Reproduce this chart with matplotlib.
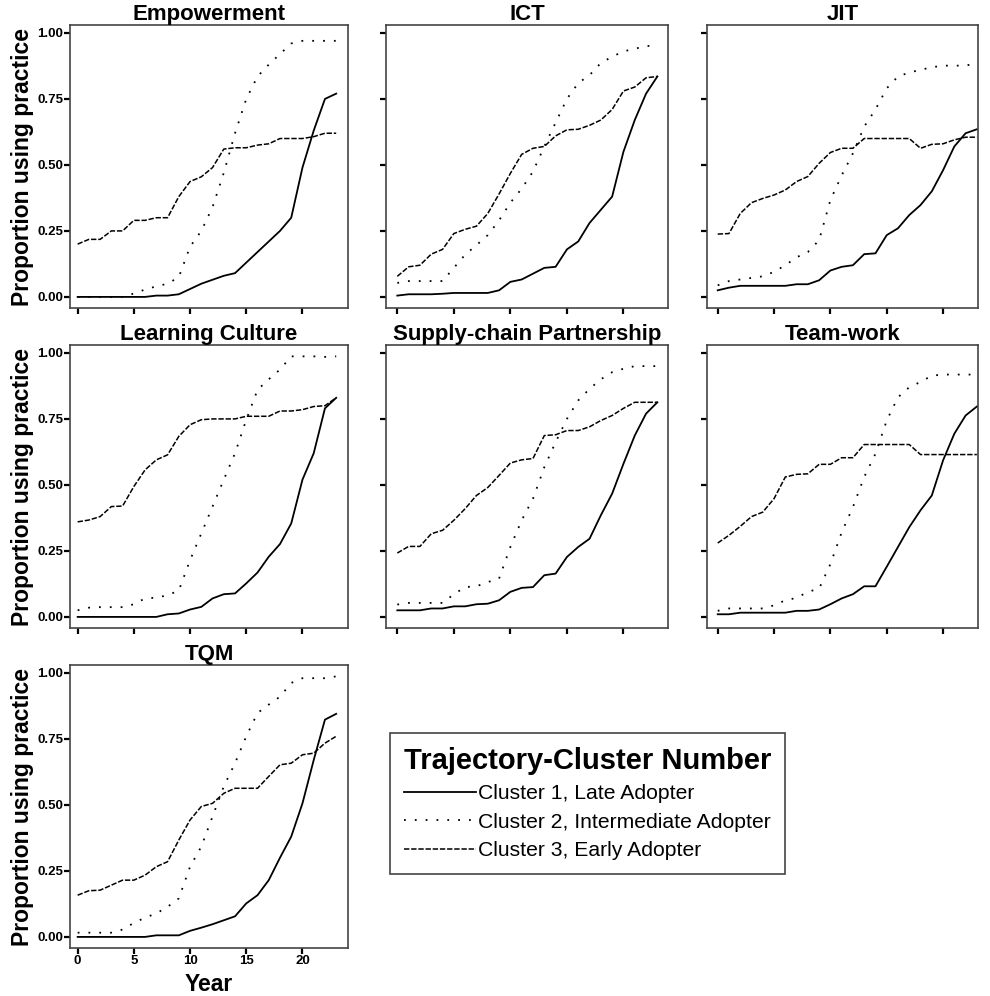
import numpy as np
import matplotlib
matplotlib.use('Agg')
from matplotlib import pyplot as plt
from matplotlib.lines import Line2D

plt.rcParams['font.family'] = ['Liberation Sans', 'DejaVu Sans']

# Years since first adoption
years = np.arange(24)

panels = ['Empowerment', 'ICT', 'JIT', 'Learning Culture',
          'Supply-chain Partnership', 'Team-work', 'TQM']

# Cluster 1 - Late adopter
late = {
    'Empowerment': [0, 0, 0, 0, 0, 0, 0, 0.005, 0.005, 0.01, 0.03, 0.05, 0.065, 0.08, 0.09, 0.13,
                    0.17, 0.21, 0.25, 0.30, 0.49, 0.63, 0.75, 0.77],
    'ICT': [0.005, 0.01, 0.01, 0.01, 0.012, 0.015, 0.015, 0.015, 0.015, 0.025, 0.057, 0.066, 0.088,
            0.11, 0.114, 0.18, 0.21, 0.28, 0.33, 0.38, 0.55, 0.67, 0.77, 0.835],
    'JIT': [0.025, 0.035, 0.042, 0.042, 0.042, 0.042, 0.042, 0.048, 0.048, 0.063, 0.10, 0.114, 0.12,
            0.162, 0.165, 0.234, 0.26, 0.31, 0.348, 0.40, 0.48, 0.57, 0.62, 0.635],
    'Learning Culture': [0, 0, 0, 0, 0, 0, 0, 0, 0.01, 0.013, 0.028, 0.038, 0.07, 0.086, 0.089,
                         0.127, 0.168, 0.228, 0.276, 0.354, 0.52, 0.62, 0.79, 0.83],
    'Supply-chain Partnership': [0.025, 0.025, 0.025, 0.032, 0.032, 0.04, 0.04, 0.048, 0.05, 0.063,
                                 0.095, 0.11, 0.113, 0.158, 0.164, 0.227, 0.265, 0.296, 0.385,
                                 0.467, 0.58, 0.687, 0.77, 0.813],
    'Team-work': [0.01, 0.01, 0.016, 0.016, 0.016, 0.016, 0.016, 0.023, 0.023, 0.028, 0.048, 0.07,
                  0.086, 0.116, 0.116, 0.19, 0.265, 0.34, 0.404, 0.46, 0.593, 0.694, 0.763, 0.797],
    'TQM': [0, 0, 0, 0, 0, 0, 0, 0.006, 0.006, 0.006, 0.023, 0.035, 0.048, 0.063, 0.078, 0.127,
            0.158, 0.215, 0.30, 0.38, 0.506, 0.67, 0.823, 0.845],
}

# Cluster 2 - Intermediate adopter
intermediate = {
    'Empowerment': [0, 0, 0, 0, 0, 0.013, 0.028, 0.04, 0.05, 0.075, 0.19, 0.25, 0.34, 0.47, 0.62,
                    0.75, 0.835, 0.88, 0.92, 0.96, 0.97, 0.97, 0.97, 0.97],
    'ICT': [0.053, 0.06, 0.06, 0.06, 0.06, 0.11, 0.16, 0.196, 0.234, 0.29, 0.357, 0.41, 0.475, 0.57,
            0.66, 0.75, 0.81, 0.84, 0.886, 0.91, 0.93, 0.94, 0.95, 0.953],
    'JIT': [0.044, 0.06, 0.066, 0.072, 0.078, 0.095, 0.12, 0.15, 0.17, 0.215, 0.367, 0.46, 0.544,
            0.645, 0.71, 0.79, 0.835, 0.85, 0.86, 0.87, 0.876, 0.876, 0.876, 0.886],
    'Learning Culture': [0.025, 0.035, 0.037, 0.037, 0.037, 0.048, 0.07, 0.073, 0.082, 0.10, 0.215,
                         0.316, 0.418, 0.52, 0.62, 0.747, 0.86, 0.90, 0.937, 0.987, 0.987, 0.987,
                         0.985, 0.987],
    'Supply-chain Partnership': [0.047, 0.053, 0.053, 0.053, 0.053, 0.086, 0.113, 0.116, 0.132,
                                 0.145, 0.265, 0.366, 0.448, 0.567, 0.662, 0.75, 0.82, 0.864, 0.90,
                                 0.927, 0.94, 0.95, 0.95, 0.95],
    'Team-work': [0.023, 0.032, 0.032, 0.032, 0.032, 0.044, 0.063, 0.072, 0.095, 0.107, 0.20, 0.32,
                  0.416, 0.53, 0.618, 0.744, 0.832, 0.87, 0.89, 0.914, 0.918, 0.918, 0.918, 0.918],
    'TQM': [0.016, 0.016, 0.016, 0.016, 0.028, 0.053, 0.073, 0.089, 0.114, 0.146, 0.266, 0.342,
            0.456, 0.57, 0.658, 0.76, 0.848, 0.88, 0.91, 0.962, 0.98, 0.98, 0.98, 0.987],
}

# Cluster 3 - Early adopter
early = {
    'Empowerment': [0.20, 0.218, 0.218, 0.25, 0.25, 0.29, 0.29, 0.30, 0.30, 0.38, 0.437, 0.455,
                    0.49, 0.56, 0.565, 0.565, 0.575, 0.58, 0.60, 0.60, 0.60, 0.607, 0.62, 0.62],
    'ICT': [0.078, 0.114, 0.12, 0.162, 0.18, 0.24, 0.256, 0.268, 0.316, 0.39, 0.468, 0.54, 0.563,
            0.57, 0.61, 0.633, 0.635, 0.65, 0.67, 0.71, 0.78, 0.795, 0.83, 0.835],
    'JIT': [0.238, 0.24, 0.316, 0.357, 0.373, 0.386, 0.405, 0.437, 0.456, 0.506, 0.547, 0.563,
            0.563, 0.60, 0.60, 0.60, 0.60, 0.60, 0.563, 0.578, 0.58, 0.595, 0.605, 0.605],
    'Learning Culture': [0.36, 0.367, 0.38, 0.418, 0.42, 0.494, 0.557, 0.595, 0.614, 0.684, 0.728,
                         0.747, 0.75, 0.75, 0.75, 0.76, 0.76, 0.76, 0.78, 0.78, 0.785, 0.797, 0.80,
                         0.83],
    'Supply-chain Partnership': [0.242, 0.267, 0.267, 0.315, 0.328, 0.366, 0.41, 0.46, 0.49, 0.536,
                                 0.583, 0.595, 0.60, 0.687, 0.69, 0.706, 0.706, 0.72, 0.744, 0.763,
                                 0.79, 0.813, 0.813, 0.813],
    'Team-work': [0.28, 0.309, 0.343, 0.38, 0.397, 0.448, 0.53, 0.54, 0.542, 0.578, 0.578, 0.603,
                  0.603, 0.653, 0.653, 0.653, 0.653, 0.653, 0.615, 0.615, 0.615, 0.615, 0.615, 0.615],
    'TQM': [0.158, 0.175, 0.177, 0.196, 0.215, 0.215, 0.234, 0.266, 0.285, 0.367, 0.443, 0.494,
            0.506, 0.544, 0.563, 0.563, 0.563, 0.608, 0.652, 0.658, 0.69, 0.696, 0.734, 0.76],
}

legend_title = 'Trajectory-Cluster Number'
legend_labels = ['Cluster 1, Late Adopter', 'Cluster 2, Intermediate Adopter',
                 'Cluster 3, Early Adopter']

# line styles per cluster
styles = [dict(ls='-', lw=1.3), dict(ls=(0, (1.0, 5.0)), lw=1.3), dict(ls=(0, (3.5, 1.2)), lw=1.1)]

W, H = 990, 996
fig = plt.figure(figsize=(W / 100, H / 100), dpi=100)

# panel boxes in pixels: (left, right, xmin, xmax), (top, bottom)
cols = [(70, 348, -0.68, 24.05), (386, 668, -1.0, 23.94), (707, 978, -0.95, 23.1)]
rows = [(25, 308), (345, 628), (665, 948)]

for i, name in enumerate(panels):
    r, c = divmod(i, 3)
    left, right, x0, x1 = cols[c]
    top, bot = rows[r]
    ax = fig.add_axes([left / W, 1 - bot / H, (right - left) / W, (bot - top) / H])
    for data, st in zip([late, intermediate, early], styles):
        ax.plot(years, data[name], color='black', linestyle=st['ls'], linewidth=st['lw'])
    ax.set_xlim(x0, x1)
    ax.set_ylim(-0.042, 1.03)
    ax.set_xticks([0, 5, 10, 15, 20])
    ax.set_yticks([0, 0.25, 0.5, 0.75, 1.0])
    ax.yaxis.set_major_formatter(matplotlib.ticker.FormatStrFormatter('%.2f'))
    ax.tick_params(direction='out', length=4, width=1.6, labelsize=9.5, pad=1, color='black')
    for lbl in ax.get_xticklabels() + ax.get_yticklabels():
        lbl.set_fontweight('bold')
    for s in ax.spines.values():
        s.set_color('#444444')
        s.set_linewidth(1.2)
    ax.set_title(name, fontsize=16, fontweight='bold', pad=3)
    if c == 0:
        ax.set_ylabel('Proportion using practice', fontsize=16.5, fontweight='bold', labelpad=2)
    else:
        ax.tick_params(labelleft=False)
    if i == 6:
        ax.set_xlabel('Year', fontsize=16.5, fontweight='bold', labelpad=4)
    else:
        ax.tick_params(labelbottom=False)

handles = [Line2D([], [], color='black', linestyle=st['ls'], linewidth=st['lw']) for st in styles]
leg = fig.legend(handles, legend_labels, title=legend_title, loc='upper left',
                 bbox_to_anchor=(390 / W, 1 - 733 / H), fontsize=15.2,
                 title_fontproperties={'weight': 'bold', 'size': 21},
                 handlelength=3.4, handletextpad=0.1, labelspacing=0.45,
                 borderpad=0.65, borderaxespad=0, fancybox=False, framealpha=1,
                 edgecolor='#444444', alignment='center')
leg.get_frame().set_linewidth(1.2)

plt.savefig('out.png', dpi=100)
